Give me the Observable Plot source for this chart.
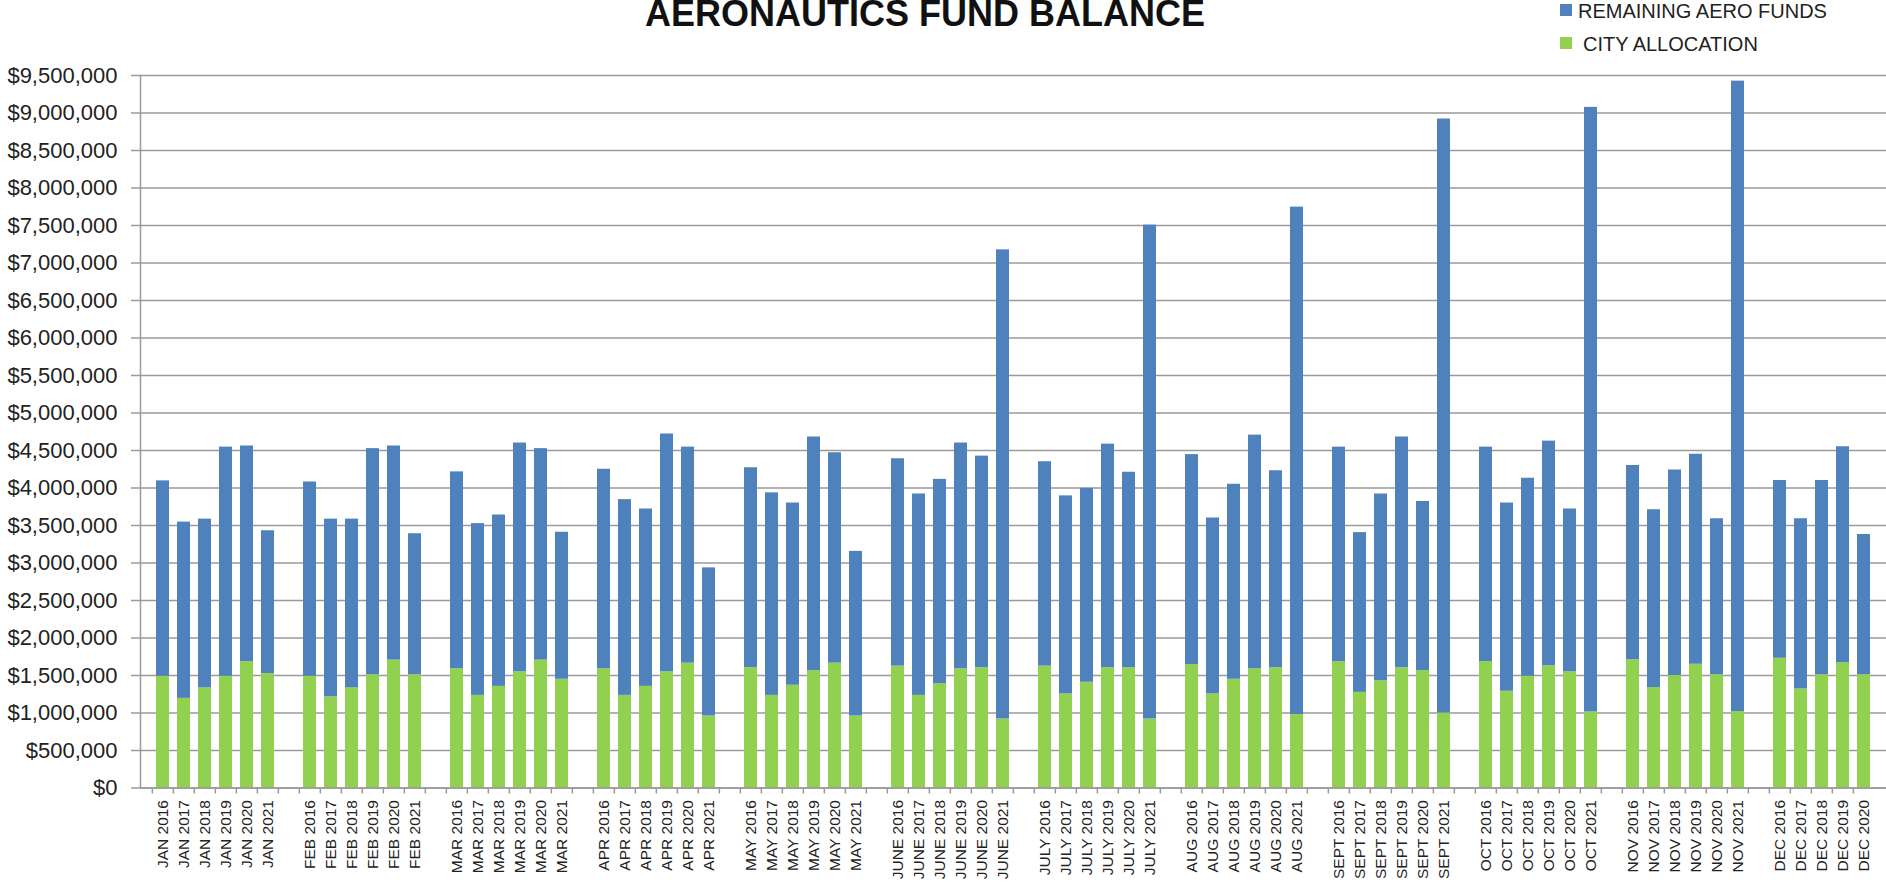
<!DOCTYPE html>
<html>
<head>
<meta charset="utf-8">
<script src="https://cdn.jsdelivr.net/npm/d3@7"></script>
<script src="https://cdn.jsdelivr.net/npm/@observablehq/plot@0.6"></script>
<style>
  html, body { margin: 0; padding: 0; background: #fff; overflow: hidden; }
  #wrap { position: relative; width: 1886px; height: 882px; }
  #title { position: absolute; left: 925px; top: 1px; transform: translateX(-50%);
    font: bold 36px/26px "Liberation Sans", Arial, sans-serif; color: #111; white-space: nowrap; }
  .leg { position: absolute; left: 1560px; font: 20px/20px "Liberation Sans", Arial, sans-serif; color: #222; white-space: nowrap; }
  .leg i { position: absolute; left: 0; width: 12px; height: 12px; }
  .leg span { position: absolute; left: 18px; top: 0; }
</style>
</head>
<body>
<div id="wrap">
  <div id="chart"></div>
  <div id="title">AERONAUTICS FUND BALANCE</div>
  <div class="leg" id="leg1" style="top:1px"><i style="background:#4F81BD;top:3px"></i><span>REMAINING AERO FUNDS</span></div>
  <div class="leg" id="leg2" style="top:34px"><i style="background:#92D050;top:3px"></i><span style="left:23px">CITY ALLOCATION</span></div>
</div>
<script>
const months = ["JAN", "FEB", "MAR", "APR", "MAY", "JUNE", "JULY", "AUG", "SEPT", "OCT", "NOV", "DEC"];
const years = [2016, 2017, 2018, 2019, 2020, 2021];

// CITY ALLOCATION (green, bottom of each stack), one row per month, 2016..2021
const cityAllocation = [
  [1490000, 1195000, 1335000, 1490000, 1685000, 1525000], // JAN
  [1490000, 1215000, 1335000, 1510000, 1705000, 1510000], // FEB
  [1590000, 1235000, 1355000, 1550000, 1705000, 1450000], // MAR
  [1590000, 1235000, 1355000, 1550000, 1665000, 960000],  // APR
  [1605000, 1235000, 1370000, 1565000, 1665000, 960000],  // MAY
  [1625000, 1235000, 1390000, 1590000, 1605000, 920000],  // JUNE
  [1625000, 1255000, 1410000, 1605000, 1605000, 920000],  // JULY
  [1645000, 1255000, 1450000, 1590000, 1605000, 980000],  // AUG
  [1685000, 1275000, 1430000, 1605000, 1565000, 1000000], // SEPT
  [1685000, 1290000, 1490000, 1630000, 1550000, 1015000], // OCT
  [1710000, 1340000, 1500000, 1650000, 1510000, 1020000], // NOV
  [1730000, 1320000, 1510000, 1670000, 1510000]           // DEC
];

// REMAINING AERO FUNDS (blue, stacked on top)
const remainingAeroFunds = [
  [2605000, 2350000, 2250000, 3055000, 2875000, 1905000], // JAN
  [2590000, 2370000, 2250000, 3015000, 2855000, 1880000], // FEB
  [2625000, 2290000, 2285000, 3050000, 2820000, 1960000], // MAR
  [2660000, 2610000, 2365000, 3170000, 2880000, 1975000], // APR
  [2665000, 2700000, 2430000, 3115000, 2805000, 2195000], // MAY
  [2765000, 2685000, 2725000, 3010000, 2820000, 6255000], // JUNE
  [2725000, 2640000, 2585000, 2980000, 2605000, 6585000], // JULY
  [2800000, 2345000, 2600000, 3115000, 2625000, 6765000], // AUG
  [2860000, 2130000, 2490000, 3075000, 2255000, 7920000], // SEPT
  [2860000, 2510000, 2640000, 2995000, 2170000, 8060000], // OCT
  [2590000, 2370000, 2740000, 2800000, 2080000, 8405000], // NOV
  [2370000, 2270000, 2590000, 2880000, 1870000]           // DEC
];

const seriesNames = ["CITY ALLOCATION", "REMAINING AERO FUNDS"];
const seriesColors = ["#92D050", "#4F81BD"];
const yTicks = [0, 500000, 1000000, 1500000, 2000000, 2500000, 3000000, 3500000, 4000000,
  4500000, 5000000, 5500000, 6000000, 6500000, 7000000, 7500000, 8000000, 8500000, 9000000, 9500000];

// category slots (with an empty slot between month groups, as in the sheet)
const slots = [];
const rows = [];
months.forEach((m, i) => {
  cityAllocation[i].forEach((v, j) => {
    const label = `${m} ${years[j]}`;
    slots.push(label);
    rows.push({label, series: seriesNames[0], value: v});
    rows.push({label, series: seriesNames[1], value: remainingAeroFunds[i][j]});
  });
  if (i < months.length - 1) slots.push(`gap${i}`);
});

const W = 1886, H = 882, mL = 140, mR = 0, mT = 75, mB = 94.5;
const step = (W - mL - mR) / slots.length;
const grid = "#9a9a9a";
const fmt = d3.format(",");

const chart = Plot.plot({
  width: W, height: H,
  marginLeft: mL, marginRight: mR, marginTop: mT, marginBottom: mB,
  style: {fontFamily: "'Liberation Sans', Arial, sans-serif", background: "white", color: "#222", overflow: "visible"},
  x: {domain: slots, paddingInner: 0.36, paddingOuter: 0.18, axis: null, label: null},
  y: {domain: [0, 9500000], axis: null, label: null},
  color: {domain: seriesNames, range: seriesColors},
  marks: [
    Plot.gridY(yTicks, {stroke: grid, strokeOpacity: 1, strokeWidth: 1.5}),
    Plot.barY(rows, {x: "label", y: "value", fill: "series", order: seriesNames}),
    Plot.ruleY([0], {stroke: grid, strokeWidth: 1.5}),
    Plot.frame({anchor: "left", stroke: grid, strokeWidth: 1.5}),
    Plot.axisY(yTicks, {tickSize: 9, tickPadding: 14, tickFormat: d => "$" + fmt(d), label: null,
      fontSize: 22, stroke: grid, strokeWidth: 1.5, fill: "#222"}),
    Plot.axisX({ticks: slots, tickSize: 6, tickFormat: () => "", label: null, dx: -step / 2, stroke: grid, strokeWidth: 1.5}),
    Plot.axisX({ticks: slots, tickSize: 0, tickPadding: 12, tickRotate: -90, label: null,
      tickFormat: d => d.startsWith("gap") ? "" : d, fontSize: 15.5, fill: "#222"})
  ]
});
document.getElementById("chart").appendChild(chart);
</script>
</body>
</html>
